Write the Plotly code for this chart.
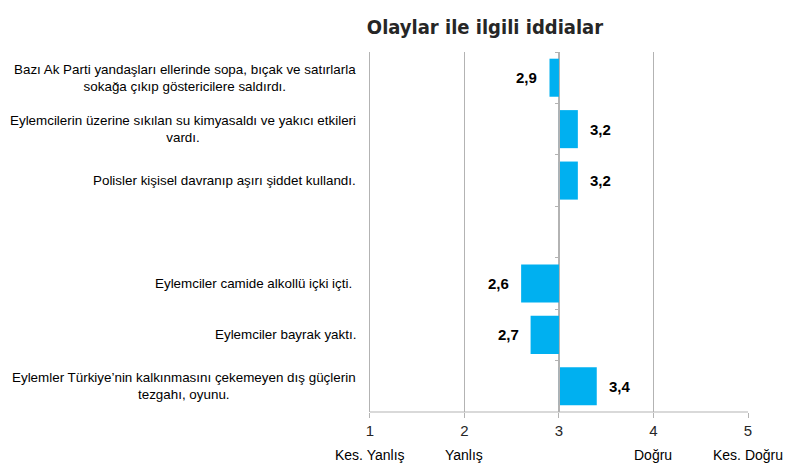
import plotly.graph_objects as go

categories = [
    "Bazı Ak Parti yandaşları ellerinde sopa, bıçak ve satırlarla<br>sokağa çıkıp göstericilere saldırdı.",
    "Eylemcilerin üzerine sıkılan su kimyasaldı ve yakıcı etkileri<br>vardı.",
    "Polisler kişisel davranıp aşırı şiddet kullandı.",
    " ",
    "Eylemciler camide alkollü içki içti. ",
    "Eylemciler bayrak yaktı.",
    "Eylemler Türkiye’nin kalkınmasını çekemeyen dış güçlerin<br>tezgahı, oyunu.",
]
values = [2.9, 3.2, 3.2, None, 2.6, 2.7, 3.4]
baseline = 3
tick_values = [1, 2, 3, 4, 5]
tick_numbers = ["1", "2", "3", "4", "5"]
tick_words = ["Kes. Yanlış", "Yanlış", "", "Doğru", "Kes. Doğru"]
title_text = "Olaylar ile ilgili iddialar"

BLUE = "#00B0F0"
GRID = "#B3B3B3"
LABEL_FONT = "Liberation Sans, Arial, sans-serif"

cats = [c for c, v in zip(categories, values) if v is not None]
vals = [v for v in values if v is not None]

fig = go.Figure()
fig.add_trace(go.Bar(
    y=cats,
    x=[v - baseline for v in vals],
    base=baseline,
    orientation="h",
    marker=dict(color=BLUE, line=dict(width=0)),
    hoverinfo="skip",
))

annotations = []
# value labels
for c, v in zip(cats, vals):
    right = v >= baseline
    annotations.append(dict(
        x=v, y=c, xref="x", yref="y",
        text=f"{v:.1f}".replace(".", ","),
        showarrow=False,
        xanchor="left" if right else "right",
        xshift=10 if right else -10,
        font=dict(family=LABEL_FONT, size=15, color="#000000", weight="bold"),
    ))
# category labels
for c in categories:
    if c.strip() == "":
        continue
    annotations.append(dict(
        x=tick_values[0], y=c, xref="x", yref="y",
        text=c, showarrow=False,
        xanchor="right", xshift=-12, align="center",
        font=dict(family=LABEL_FONT, size=13.4, color="#000000"),
    ))
# tick words below the numbers
for tv, w in zip(tick_values, tick_words):
    if not w:
        continue
    annotations.append(dict(
        x=tv, y=0, xref="x", yref="paper",
        text=w, showarrow=False, yanchor="middle", yshift=-43,
        font=dict(family=LABEL_FONT, size=14, color="#000000"),
    ))

fig.update_layout(
    width=800, height=471,
    margin=dict(l=368, r=52, t=52, b=59),
    paper_bgcolor="white", plot_bgcolor="white",
    showlegend=False,
    bargap=0.26,
    title=dict(
        text=title_text,
        x=485 / 800, xanchor="center", xref="container",
        y=1 - 27 / 471, yanchor="middle", yref="container",
        font=dict(family="DejaVu Sans Condensed, Liberation Sans Narrow, Arial Narrow, sans-serif",
                  size=20, color="#262626", weight="bold"),
    ),
    xaxis=dict(
        range=[0.98, 5],
        tickvals=tick_values, ticktext=tick_numbers,
        showgrid=True, gridcolor=GRID, gridwidth=1,
        zeroline=False,
        showline=False,
        ticks="outside", ticklen=5, tickcolor=GRID,
        tickfont=dict(family=LABEL_FONT, size=15, color="#262626"),
    ),
    yaxis=dict(
        type="category",
        categoryorder="array", categoryarray=categories,
        range=[len(categories) - 0.5, -0.5],
        anchor="free", position=(baseline - 0.98) / (5 - 0.98),
        showticklabels=False,
        showgrid=False, zeroline=False,
        showline=True, linecolor=GRID, linewidth=1,
        ticks="outside", ticklen=4, tickcolor=GRID, tickson="boundaries",
    ),
    shapes=[dict(type="line", xref="x", yref="paper",
                 x0=tick_values[0], x1=tick_values[-1], y0=0, y1=0,
                 line=dict(color=GRID, width=1))],
    annotations=annotations,
)

fig.write_html("out.html")
